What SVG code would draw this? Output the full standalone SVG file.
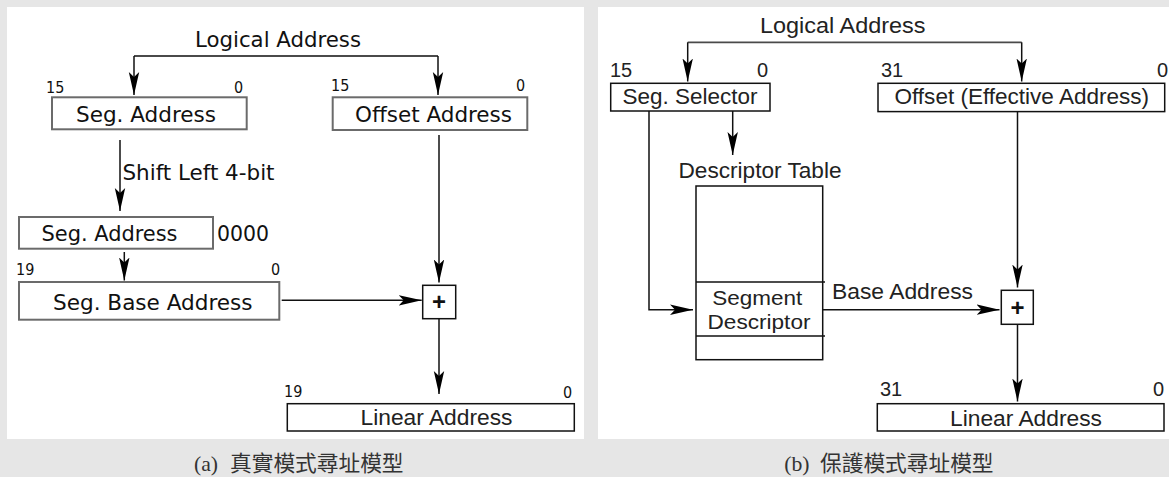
<svg xmlns="http://www.w3.org/2000/svg" width="1169" height="477" viewBox="0 0 1169 477">
  <style>
    .bg { fill: #e6e6e6; }
    .panel { fill: #ffffff; }
    .gbox { fill: #ffffff; stroke: #6b6b6b; stroke-width: 2; }
    .kbox { fill: #ffffff; stroke: #111111; stroke-width: 1.5; }
    .conn { fill: none; stroke: #111111; stroke-width: 1.5; }
    .brk { fill: none; stroke: #4a4a4a; stroke-width: 1.8; }
    .tl { font-family: "DejaVu Sans Condensed", "DejaVu Sans", sans-serif; font-stretch: condensed; font-size: 22px; fill: #111111; }
    .bl { font-family: "DejaVu Sans Condensed", "DejaVu Sans", sans-serif; font-stretch: condensed; font-size: 16px; fill: #111111; }
    .ta { font-family: "Liberation Sans", Arial, sans-serif; font-size: 21.5px; fill: #222222; }
    .tsd { font-family: "Liberation Sans", Arial, sans-serif; font-size: 20px; fill: #222222; text-anchor: middle; }
    .ba { font-family: "Liberation Sans", Arial, sans-serif; font-size: 20px; fill: #222222; }
    .plus { font-family: "Liberation Sans", Arial, sans-serif; font-size: 24px; font-weight: bold; fill: #111111; text-anchor: middle; }
    .cap { font-family: "Liberation Serif", "Noto Sans CJK TC", serif; font-size: 21.7px; fill: #333333; }
  </style>
  <defs>
    <marker id="ah" viewBox="0 0 24 12" refX="23" refY="6" markerWidth="24" markerHeight="12" markerUnits="userSpaceOnUse" orient="auto">
      <path d="M23,6 L0,0.8 L5,6 L0,11.2 Z" fill="#000000"/>
    </marker>
  </defs>

  <rect class="bg" x="0" y="0" width="1169" height="477"/>
  <rect class="panel" x="7" y="7" width="577" height="432"/>
  <rect class="panel" x="598" y="7" width="571" height="432"/>

  <!-- ===== Panel (a) ===== -->
  <g id="a-logical">
    <text class="tl" x="195" y="47.3" textLength="166" lengthAdjust="spacingAndGlyphs">Logical Address</text>
  </g>
  <g id="a-seg-address">
    <text class="bl" x="46" y="93.3">15</text>
    <text class="bl" x="234" y="93.3">0</text>
    <rect class="gbox" x="52" y="97.3" width="194.7" height="32"/>
    <text class="tl" x="76" y="121.7" textLength="140" lengthAdjust="spacingAndGlyphs">Seg. Address</text>
  </g>
  <g id="a-offset-address">
    <text class="bl" x="331" y="91">15</text>
    <text class="bl" x="516" y="91">0</text>
    <rect class="gbox" x="332.7" y="97.3" width="194.6" height="32.7"/>
    <text class="tl" x="355" y="121.7" textLength="157" lengthAdjust="spacingAndGlyphs">Offset Address</text>
  </g>
  <g id="a-shift-label">
    <text class="tl" x="122.5" y="180" textLength="152" lengthAdjust="spacingAndGlyphs">Shift Left 4-bit</text>
  </g>
  <g id="a-seg-address-shifted">
    <rect class="gbox" x="19" y="217" width="194" height="31.7"/>
    <text class="tl" x="41.5" y="241" textLength="136" lengthAdjust="spacingAndGlyphs">Seg. Address</text>
    <text class="tl" x="217" y="241" textLength="52" lengthAdjust="spacingAndGlyphs">0000</text>
  </g>
  <g id="a-seg-base">
    <text class="bl" x="16" y="274.7">19</text>
    <text class="bl" x="271" y="274.7">0</text>
    <rect class="gbox" x="19" y="282" width="260.3" height="37.7"/>
    <text class="tl" x="53" y="309.7" textLength="199.5" lengthAdjust="spacingAndGlyphs">Seg. Base Address</text>
  </g>
  <g id="a-adder">
    <rect class="kbox" x="422.7" y="285.3" width="33" height="33.4"/>
    <text class="plus" x="439" y="309.5">+</text>
  </g>
  <g id="a-linear">
    <text class="bl" x="284" y="396.5">19</text>
    <text class="bl" x="563" y="398">0</text>
    <rect class="kbox" x="287.3" y="403.7" width="287" height="27.3"/>
    <text class="ta" x="360.5" y="425.3" textLength="152" lengthAdjust="spacingAndGlyphs">Linear Address</text>
  </g>
  <g id="a-caption">
    <text class="cap" y="471"><tspan x="194">(a)</tspan><tspan x="230">真實模式尋址模型</tspan></text>
  </g>

  <g id="a-connectors">
    <path class="brk" d="M286,56 H134"/>
    <path class="brk" d="M286,56 H438"/>
    <path class="conn" d="M134,56 V95" marker-end="url(#ah)"/>
    <path class="conn" d="M438,56 V95" marker-end="url(#ah)"/>
    <path class="conn" d="M120,140 V211" marker-end="url(#ah)"/>
    <path class="conn" d="M124.3,252 V280.5" marker-end="url(#ah)"/>
    <path class="conn" d="M281.7,300.3 H421.7" marker-end="url(#ah)"/>
    <path class="conn" d="M439,135 V282.5" marker-end="url(#ah)"/>
    <path class="conn" d="M439,319 V394" marker-end="url(#ah)"/>
  </g>

  <!-- ===== Panel (b) ===== -->
  <g id="b-logical">
    <text class="ta" x="760" y="33.3" textLength="165.5" lengthAdjust="spacingAndGlyphs">Logical Address</text>
  </g>
  <g id="b-selector">
    <text class="ba" x="610" y="77.3">15</text>
    <text class="ba" x="757" y="77.3">0</text>
    <rect class="kbox" x="610.7" y="83.3" width="159.3" height="27.7"/>
    <text class="ta" x="622.5" y="104.3" textLength="135" lengthAdjust="spacingAndGlyphs">Seg. Selector</text>
  </g>
  <g id="b-offset">
    <text class="ba" x="881" y="77.3">31</text>
    <text class="ba" x="1157" y="77.3">0</text>
    <rect class="kbox" x="878" y="83.3" width="286.7" height="28.3"/>
    <text class="ta" x="894.5" y="104.3" textLength="254.5" lengthAdjust="spacingAndGlyphs">Offset (Effective Address)</text>
  </g>
  <g id="b-descriptor-table">
    <text class="ta" x="678.5" y="178.3" textLength="163" lengthAdjust="spacingAndGlyphs">Descriptor Table</text>
    <rect class="kbox" x="696" y="186" width="126.7" height="173.7"/>
    <line class="conn" x1="696" y1="282" x2="825" y2="282"/>
    <line class="conn" x1="696" y1="336" x2="825" y2="336"/>
    <text class="tsd"><tspan x="757.2" y="305" textLength="90" lengthAdjust="spacingAndGlyphs">Segment</tspan><tspan x="759" y="328.5" textLength="103" lengthAdjust="spacingAndGlyphs">Descriptor</tspan></text>
  </g>
  <g id="b-base-label">
    <text class="ta" x="832" y="298.7" textLength="141" lengthAdjust="spacingAndGlyphs">Base Address</text>
  </g>
  <g id="b-adder">
    <rect class="kbox" x="1001.3" y="290.3" width="32" height="34"/>
    <text class="plus" x="1017.5" y="315.5">+</text>
  </g>
  <g id="b-linear">
    <text class="ba" x="880" y="396.3">31</text>
    <text class="ba" x="1153" y="396.3">0</text>
    <rect class="kbox" x="877.3" y="403.7" width="286.7" height="27.3"/>
    <text class="ta" x="950" y="426" textLength="152" lengthAdjust="spacingAndGlyphs">Linear Address</text>
  </g>
  <g id="b-caption">
    <text class="cap" y="471"><tspan x="784.3">(b)</tspan><tspan x="820">保護模式尋址模型</tspan></text>
  </g>

  <g id="b-connectors">
    <path class="brk" d="M854,42.3 H687.7"/>
    <path class="brk" d="M854,42.3 H1021.7"/>
    <path class="conn" d="M687.7,42.3 V81.5" marker-end="url(#ah)"/>
    <path class="conn" d="M1021.7,42.3 V81.5" marker-end="url(#ah)"/>
    <path class="conn" d="M649,111 V309.7 H693" marker-end="url(#ah)"/>
    <path class="conn" d="M732.7,111 V155" marker-end="url(#ah)"/>
    <path class="conn" d="M822.7,309.7 H999.5" marker-end="url(#ah)"/>
    <path class="conn" d="M1017.5,111.7 V287.5" marker-end="url(#ah)"/>
    <path class="conn" d="M1017.5,324.3 V401.5" marker-end="url(#ah)"/>
  </g>
</svg>
